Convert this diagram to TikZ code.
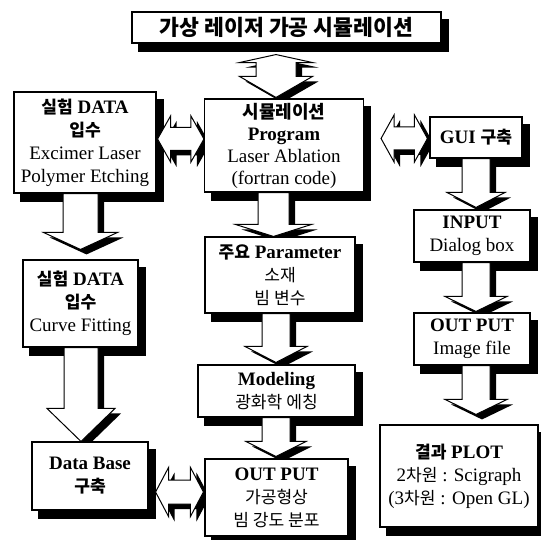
\documentclass[tikz,border=0pt]{standalone}
\usepackage{fontspec}
\setmainfont{Liberation Serif}
\newfontfamily\kr[Scale=0.9]{Noto Sans CJK KR}
\usetikzlibrary{shadows,calc}
\pgfdeclarelayer{shadowlayer}
\pgfdeclarelayer{arrowlayer}
\pgfsetlayers{shadowlayer,arrowlayer,main}
\newcommand{\K}[1]{{\kr #1}}
\newcommand{\KB}[1]{{\kr\bfseries #1}}
\newcommand{\boxshadow}[1]{%
  \fill[black] ([shift={(7pt,-8pt)}]#1.south west) rectangle ([shift={(7pt,-8pt)}]#1.north east);}
% down block arrow: from, to, x centre, shaft half, head half, head length, tip gap
\newcommand{\downblock}[7]{%
  \path[blk] let \p1=(#1.south), \p2=(#2.north) in
    (#3pt-#4pt,\y1) -- (#3pt+#4pt,\y1) -- (#3pt+#4pt,\y2+#7pt+#6pt)
    -- (#3pt+#5pt,\y2+#7pt+#6pt) -- (#3pt,\y2+#7pt)
    -- (#3pt-#5pt,\y2+#7pt+#6pt) -- (#3pt-#4pt,\y2+#7pt+#6pt) -- cycle;}
% horizontal double block arrow: from, to, y centre, shaft half, head half, left gap, right gap
\newcommand{\hdouble}[7]{%
  \path[blk] let \p1=(#1.east), \p2=(#2.west) in
    (\x1+#6pt,-#3pt) -- (\x1+#6pt+13pt,-#3pt+#5pt) -- (\x1+#6pt+13pt,-#3pt+#4pt)
    -- (\x2-#7pt-13pt,-#3pt+#4pt) -- (\x2-#7pt-13pt,-#3pt+#5pt) -- (\x2-#7pt,-#3pt)
    -- (\x2-#7pt-13pt,-#3pt-#5pt) -- (\x2-#7pt-13pt,-#3pt-#4pt)
    -- (\x1+#6pt+13pt,-#3pt-#4pt) -- (\x1+#6pt+13pt,-#3pt-#5pt) -- cycle;}
\tikzset{
  box/.style={draw, line width=1.1pt, fill=white, align=center, inner sep=0pt,
    font=\fontsize{19}{23}\selectfont},
  blk/.style={draw, line width=1pt, fill=white, line join=miter,
    general shadow={fill=black, shadow xshift=6pt, shadow yshift=-5pt}}
}
\begin{document}
\begin{tikzpicture}[x=1pt,y=-1pt]
\begin{pgfonlayer}{shadowlayer}
\fill[white] (0,0) rectangle (540,540);
\end{pgfonlayer}
\useasboundingbox (0,0) rectangle (540,540);
% boxes
\node[box, minimum width=309pt, minimum height=31pt] (title) at (286.5,27.5)
  {\KB{\fontsize{24}{28}\selectfont 가상 레이저 가공 시뮬레이션}};
\node[box, minimum width=142pt, minimum height=101pt] (L1) at (85,142.5)
  {\KB{실험} \textbf{DATA}\\\KB{입수}\\Excimer Laser\\Polymer Etching};
\node[box, minimum width=115pt, minimum height=87pt] (L2) at (80.5,303.5)
  {\KB{실험} \textbf{DATA}\\\KB{입수}\\Curve Fitting};
\node[box, minimum width=116pt, minimum height=68pt] (L3) at (90,476)
  {\textbf{Data Base}\\\KB{구축}};
\node[box, minimum width=159pt, minimum height=93pt, font=\fontsize{19}{22}\selectfont] (M1) at (284,145.5)
  {\KB{\fontsize{20}{22}\selectfont 시뮬레이션}\\\textbf{Program}\\Laser Ablation\\(fortran code)};
\node[box, minimum width=150pt, minimum height=76pt] (M2) at (280,275)
  {\KB{주요} \textbf{Parameter}\\\K{소재}\\\K{빔 변수}};
\node[box, minimum width=157pt, minimum height=52pt] (M3) at (276.5,391)
  {\textbf{Modeling}\\\K{광화학 에칭}};
\node[box, minimum width=143pt, minimum height=77pt] (M4) at (276.5,497.5)
  {\textbf{OUT PUT}\\\K{가공형상}\\\K{빔 강도 분포}};
\node[box, minimum width=92pt, minimum height=41pt] (R1) at (476,137.5)
  {\textbf{GUI} \KB{구축}};
\node[box, minimum width=116pt, minimum height=52pt] (R2) at (472,236)
  {\textbf{INPUT}\\Dialog box};
\node[box, minimum width=116pt, minimum height=52pt] (R3) at (472,339)
  {\textbf{OUT PUT}\\Image file};
\node[box, minimum width=158pt, minimum height=102pt] (R4) at (459,476)
  {\KB{결과} \textbf{PLOT}\\2\K{차원} : Scigraph\\(3\K{차원} : Open GL)};
% box shadows
\begin{pgfonlayer}{shadowlayer}
\foreach \n in {title,L1,L2,L3,M1,M2,M3,M4,R1,R2,R3,R4} {\boxshadow{\n}}
\end{pgfonlayer}
% block arrows
\begin{pgfonlayer}{arrowlayer}
\path[blk] let \p1=(title.south), \p2=(M1.north) in
  (276pt,\y1-11pt) -- (312.5pt,\y1-19pt) -- (296pt,\y1-19pt) -- (296pt,\y2+22pt)
  -- (312.5pt,\y2+22pt) -- (276pt,\y2+1pt) -- (239.5pt,\y2+22pt) -- (256pt,\y2+22pt)
  -- (256pt,\y1-19pt) -- (239.5pt,\y1-19pt) -- cycle;
\hdouble{L1}{M1}{139}{11.5}{23}{1}{0}
\hdouble{M1}{R1}{138.5}{11.5}{23.5}{17}{2}
\hdouble{L3}{M4}{492}{12}{24.5}{7}{1}
\downblock{L1}{L2}{80.5}{17.5}{37}{17}{10}
\downblock{L2}{L3}{81}{17}{34}{33}{0}
\downblock{M1}{M2}{273.5}{15.5}{38}{12}{0}
\downblock{M2}{M3}{276}{14}{31}{16}{2}
\downblock{M3}{M4}{276}{14}{30}{15}{2}
\downblock{R1}{R2}{476}{14}{29}{15}{2}
\downblock{R2}{R3}{476}{14}{31}{15}{1}
\downblock{R3}{R4}{476}{14}{31}{15}{10}
\end{pgfonlayer}
\end{tikzpicture}
\end{document}
